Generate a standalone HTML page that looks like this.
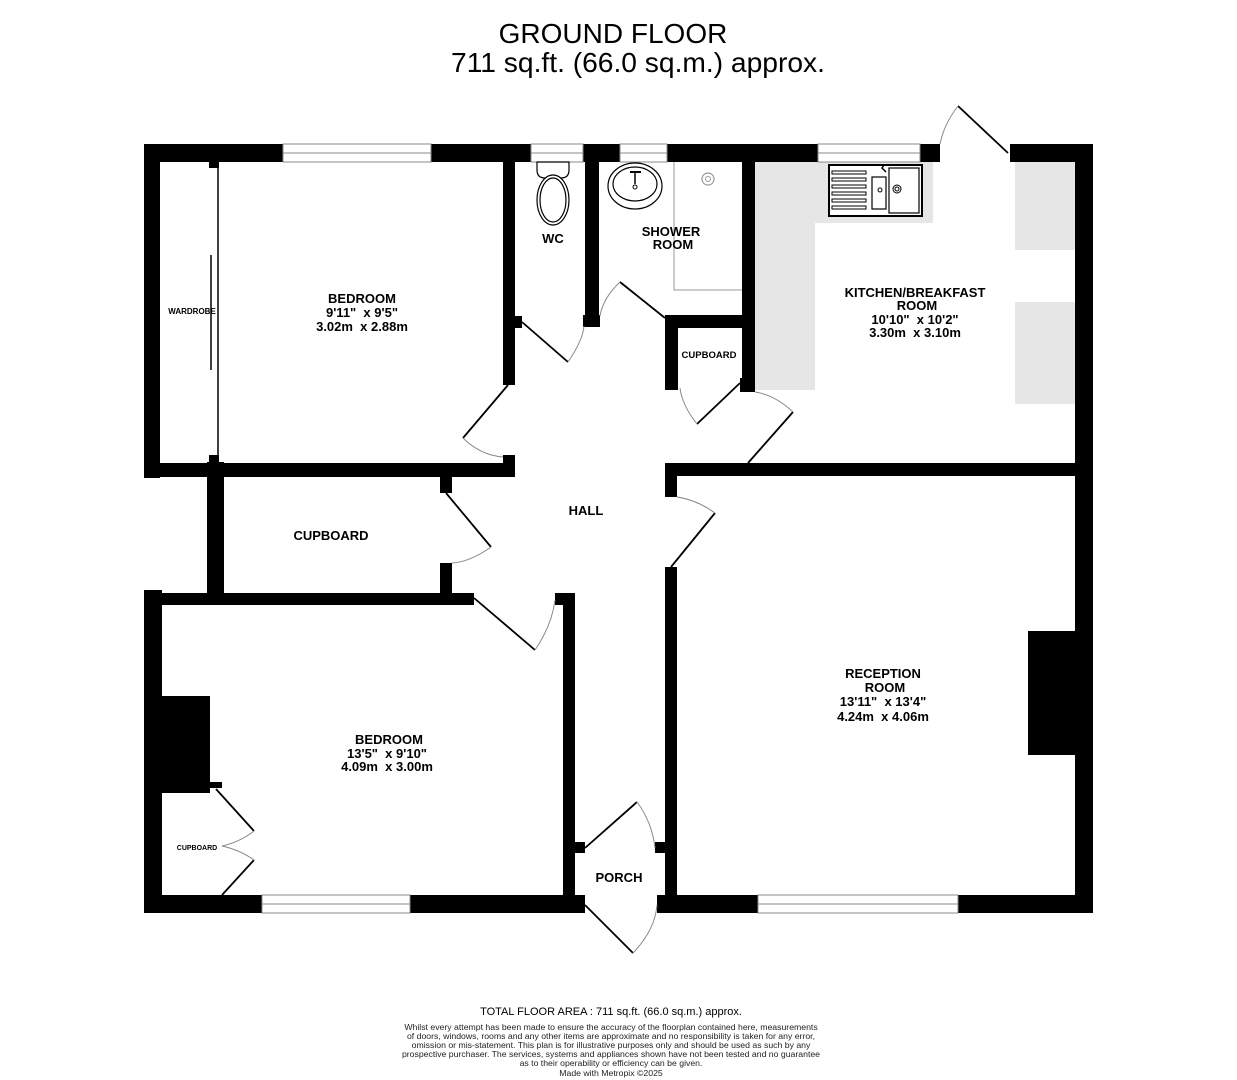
<!DOCTYPE html>
<html><head><meta charset="utf-8"><style>
html,body{margin:0;padding:0;background:#fff;}
svg{display:block;}
text{font-family:"Liberation Sans",Arial,sans-serif;}
.lbl{font-weight:bold;font-size:13px;text-anchor:middle;}
</style></head><body>
<svg width="1237" height="1080" viewBox="0 0 1237 1080" xmlns="http://www.w3.org/2000/svg">
<rect width="1237" height="1080" fill="#fff"/>
<text x="613" y="43" font-size="28" text-anchor="middle">GROUND FLOOR</text>
<text x="638" y="72" font-size="28.2" text-anchor="middle">711 sq.ft. (66.0 sq.m.) approx.</text>

<g fill="#e6e6e6">
<rect x="755" y="162" width="60" height="228"/>
<rect x="815" y="162" width="118" height="61"/>
<rect x="1015" y="162" width="60" height="88"/>
<rect x="1015" y="302" width="60" height="102"/>
</g>

<g fill="#000">
<rect x="144" y="144" width="796" height="18"/>
<rect x="1010" y="144" width="83" height="18"/>
<rect x="1075" y="144" width="18" height="769"/>
<rect x="144" y="144" width="16" height="334"/>
<rect x="144" y="590" width="18" height="323"/>
<rect x="207" y="462" width="17" height="143"/>
<rect x="144" y="895" width="441" height="18"/>
<rect x="657" y="895" width="436" height="18"/>
<rect x="144" y="463" width="371" height="14"/>
<rect x="503" y="162" width="12" height="223"/>
<rect x="503" y="455" width="12" height="21"/>
<rect x="515" y="316" width="7" height="12"/>
<rect x="585" y="162" width="14" height="165"/>
<rect x="583" y="315" width="17" height="12"/>
<rect x="742" y="162" width="13" height="230"/>
<rect x="665" y="315" width="90" height="13"/>
<rect x="665" y="315" width="13" height="75"/>
<rect x="740" y="378" width="15" height="14"/>
<rect x="665" y="463" width="428" height="13"/>
<rect x="665" y="463" width="12" height="34"/>
<rect x="665" y="567" width="12" height="346"/>
<rect x="440" y="476" width="12" height="17"/>
<rect x="440" y="563" width="12" height="37"/>
<rect x="144" y="593" width="330" height="12"/>
<rect x="555" y="593" width="20" height="12"/>
<rect x="563" y="593" width="12" height="302"/>
<rect x="574" y="842" width="11" height="11"/>
<rect x="655" y="842" width="11" height="11"/>
<rect x="160" y="696" width="50" height="97"/>
<rect x="208" y="782" width="14" height="6"/>
<rect x="1028" y="631" width="48" height="124"/>
<rect x="209" y="160" width="10" height="8"/>
<rect x="209" y="455" width="10" height="9"/>
</g>

<g fill="#fff" stroke="#888" stroke-width="1">
<rect x="283" y="144" width="148" height="18"/>
<rect x="531" y="144" width="52" height="18"/>
<rect x="620" y="144" width="47" height="18"/>
<rect x="818" y="144" width="102" height="18"/>
<rect x="262" y="895" width="148" height="18"/>
<rect x="758" y="895" width="200" height="18"/>
</g>
<g stroke="#888" stroke-width="1">
<line x1="283" y1="153" x2="431" y2="153"/><line x1="531" y1="153" x2="583" y2="153"/>
<line x1="620" y1="153" x2="667" y2="153"/><line x1="818" y1="153" x2="920" y2="153"/>
<line x1="262" y1="904" x2="410" y2="904"/><line x1="758" y1="904" x2="958" y2="904"/>
</g>

<line x1="218" y1="165" x2="218" y2="462" stroke="#000" stroke-width="1.5"/>
<line x1="211" y1="255" x2="211" y2="370" stroke="#000" stroke-width="1.5"/>

<path d="M674 162 V290 H742" fill="none" stroke="#999" stroke-width="1"/>
<circle cx="708" cy="179" r="6" fill="none" stroke="#999" stroke-width="1.2"/>
<circle cx="708" cy="179" r="2.5" fill="none" stroke="#999" stroke-width="1"/>

<g fill="#fff" stroke="#000" stroke-width="1.2">
<path d="M537 162 H569 V170 Q569 178 561 178 H545 Q537 178 537 170 Z"/>
<ellipse cx="553" cy="200" rx="16" ry="25"/>
<ellipse cx="553" cy="200" rx="13" ry="22"/>
<ellipse cx="635" cy="186" rx="27" ry="23"/>
<ellipse cx="635" cy="184" rx="22" ry="17"/>
</g>
<line x1="630" y1="172" x2="641" y2="172" stroke="#000" stroke-width="2"/>
<line x1="635" y1="172" x2="635" y2="184" stroke="#000" stroke-width="1.5"/>
<circle cx="635" cy="187" r="2" fill="none" stroke="#000"/>

<g fill="#fff" stroke="#000">
<rect x="829" y="165" width="93" height="51" stroke-width="2"/>
<rect x="872" y="177" width="14" height="32" stroke-width="1.2"/>
<rect x="889" y="168" width="30" height="45" stroke-width="1.2"/>
<circle cx="880" cy="190" r="2" stroke-width="1"/>
<circle cx="897" cy="189" r="4" stroke-width="1"/>
<circle cx="897" cy="189" r="2" stroke-width="1"/>
</g>
<g stroke="#000" stroke-width="1" fill="#fff">
<rect x="832" y="171" width="34" height="3"/><rect x="832" y="178" width="34" height="3"/>
<rect x="832" y="185" width="34" height="3"/><rect x="832" y="192" width="34" height="3"/>
<rect x="832" y="199" width="34" height="3"/><rect x="832" y="206" width="34" height="3"/>
</g>
<path d="M886 172 l-4 -4 l2 -3" fill="none" stroke="#000" stroke-width="1.5"/>

<g stroke="#000" stroke-width="1.8" fill="none">
<line x1="508" y1="385" x2="463" y2="438"/>
<line x1="522" y1="322" x2="568" y2="362"/>
<line x1="665" y1="318" x2="620" y2="282"/>
<line x1="740" y1="383" x2="697" y2="424"/>
<line x1="748" y1="463" x2="793" y2="412"/>
<line x1="1008" y1="153" x2="958" y2="106"/>
<line x1="446" y1="493" x2="491" y2="547"/>
<line x1="474" y1="598" x2="535" y2="650"/>
<line x1="671" y1="567" x2="715" y2="513"/>
<line x1="585" y1="848" x2="637" y2="802"/>
<line x1="585" y1="905" x2="633" y2="953"/>
<line x1="216" y1="789" x2="254" y2="831"/>
<line x1="222" y1="895" x2="254" y2="860"/>
</g>
<g stroke="#888" stroke-width="1" fill="none">
<path d="M463 438 Q480 455 503 457"/>
<path d="M568 362 Q583 340 584 326"/>
<path d="M620 282 Q603 298 600 316"/>
<path d="M697 424 Q682 405 680 388"/>
<path d="M793 412 Q775 395 755 392"/>
<path d="M958 106 Q944 124 940 144"/>
<path d="M491 547 Q470 562 452 563"/>
<path d="M535 650 Q552 625 555 600"/>
<path d="M715 513 Q697 500 677 497"/>
<path d="M637 802 Q652 822 655 848"/>
<path d="M633 953 Q655 930 657 905"/>
<path d="M254 831 Q240 842 222 846 Q240 850 254 860"/>
</g>

<g xml:space="preserve">
<text class="lbl" x="362" y="303">BEDROOM</text>
<text class="lbl" x="362" y="317">9'11"&#160; x 9'5"</text>
<text class="lbl" x="362" y="331">3.02m&#160; x 2.88m</text>
<text x="192" y="314" font-size="8" font-weight="bold" text-anchor="middle">WARDROBE</text>
<text class="lbl" x="553" y="243">WC</text>
<text class="lbl" x="671" y="236">SHOWER</text>
<text class="lbl" x="673" y="249">ROOM</text>
<text x="709" y="358" font-size="9.5" font-weight="bold" text-anchor="middle">CUPBOARD</text>
<text class="lbl" x="915" y="297">KITCHEN/BREAKFAST</text>
<text class="lbl" x="917" y="310">ROOM</text>
<text class="lbl" x="915" y="324">10'10"&#160; x 10'2"</text>
<text class="lbl" x="915" y="337">3.30m&#160; x 3.10m</text>
<text class="lbl" x="586" y="515">HALL</text>
<text class="lbl" x="331" y="540">CUPBOARD</text>
<text class="lbl" x="389" y="744">BEDROOM</text>
<text class="lbl" x="387" y="758">13'5"&#160; x 9'10"</text>
<text class="lbl" x="387" y="771">4.09m&#160; x 3.00m</text>
<text x="197" y="850" font-size="7" font-weight="bold" text-anchor="middle">CUPBOARD</text>
<text class="lbl" x="619" y="882">PORCH</text>
<text class="lbl" x="883" y="678">RECEPTION</text>
<text class="lbl" x="885" y="692">ROOM</text>
<text class="lbl" x="883" y="706">13'11"&#160; x 13'4"</text>
<text class="lbl" x="883" y="721">4.24m&#160; x 4.06m</text>
</g>

<text x="611" y="1015" font-size="11" text-anchor="middle">TOTAL FLOOR AREA : 711 sq.ft. (66.0 sq.m.) approx.</text>
<g font-size="8.7" text-anchor="middle" fill="#222">
<text x="611" y="1030">Whilst every attempt has been made to ensure the accuracy of the floorplan contained here, measurements</text>
<text x="611" y="1039">of doors, windows, rooms and any other items are approximate and no responsibility is taken for any error,</text>
<text x="611" y="1048">omission or mis-statement. This plan is for illustrative purposes only and should be used as such by any</text>
<text x="611" y="1057">prospective purchaser. The services, systems and appliances shown have not been tested and no guarantee</text>
<text x="611" y="1066">as to their operability or efficiency can be given.</text>
<text x="611" y="1076">Made with Metropix ©2025</text>
</g>
</svg>
</body></html>
